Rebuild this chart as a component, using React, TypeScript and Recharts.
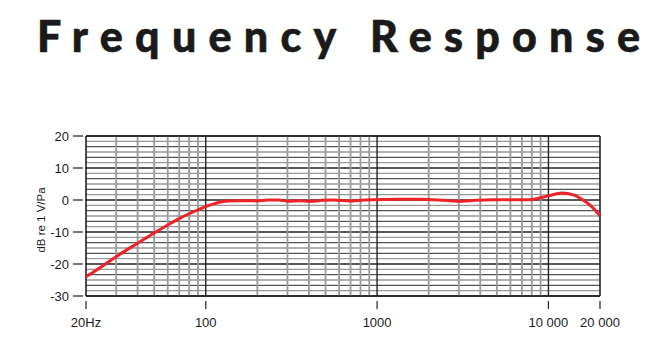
import React from 'react';
import { LineChart, Line, XAxis, YAxis, ReferenceLine } from 'recharts';

const frequencies = [20, 25, 30, 40, 50, 60, 70, 80, 90, 100, 110, 120, 135, 150, 180, 200, 230, 266, 305, 350, 410, 480, 560, 690, 840, 1000, 1300, 1800, 2300, 3000, 3500, 4700, 6000, 7700, 8500, 10000, 12000, 14000, 16000, 18000, 20000];
const responseDb = [-24, -20.6, -17.7, -13.5, -10.3, -7.8, -5.8, -4.3, -3.1, -2.1, -1.3, -0.7, -0.3, -0.2, -0.2, -0.3, 0, 0, -0.4, -0.2, -0.4, -0.1, 0, -0.3, 0, 0.1, 0.2, 0.2, 0, -0.4, -0.2, 0.1, 0.1, 0.1, 0.4, 1.3, 2.2, 1.6, -0.1, -2.2, -4.9];

const xTicks = [20, 100, 1000, 10000, 20000];
const xTickLabels = ['20Hz', '100', '1000', '10 000', '20 000'];
const yTicks = [-30, -20, -10, 0, 10, 20];
const decadeLines = [100, 1000, 10000];
const minorFreqLines = [30, 40, 50, 60, 70, 80, 90, 200, 300, 400, 500, 600, 700, 800, 900, 2000, 3000, 4000, 5000, 6000, 7000, 8000, 9000];
const dbGridSteps = Array.from({ length: 31 }, (_, i) => i);

const title = 'Frequency Response';
const yLabel = 'dB re 1 V/Pa';

const data = frequencies.map((f, i) => ({ f, db: responseDb[i] }));

const XTick = (props: any) => {
  const { x, y, payload } = props;
  const idx = xTicks.indexOf(payload.value);
  return (
    <g>
      <line x1={x} x2={x} y1={y + 5} y2={y + 13} stroke="#222" strokeWidth={1.2} />
      <text x={x} y={y + 31} textAnchor="middle" fontFamily="'Liberation Sans', Arial, sans-serif" fontSize={13} fill="#1a1a1a">
        {xTickLabels[idx]}
      </text>
    </g>
  );
};

const YTick = (props: any) => {
  const { x, y, payload } = props;
  return (
    <g>
      <line x1={x - 13} x2={x - 3} y1={y} y2={y} stroke="#222" strokeWidth={1.2} />
      <text x={x - 17} y={y + 5} textAnchor="end" fontFamily="'Liberation Sans', Arial, sans-serif" fontSize={13} fill="#1a1a1a">
        {payload.value}
      </text>
    </g>
  );
};

export default function App() {
  return (
    <div style={{ position: 'absolute', left: 0, top: 0, width: 666, height: 351, background: '#fff' }}>
      <svg width={666} height={351} style={{ position: 'absolute', left: 0, top: 0 }}>
        <text x={37} y={52} textLength={603} lengthAdjust="spacing" fontFamily="Lato, 'DejaVu Sans', sans-serif" fontWeight={900} fontSize={43} fill="#1a1a1a" stroke="#1a1a1a" strokeWidth={0.6}>
          {title}
        </text>
        <text x={0} y={0} transform="translate(45,220) rotate(-90)" textAnchor="middle" fontFamily="'Liberation Sans', Arial, sans-serif" fontSize={11.5} fill="#1a1a1a">
          {yLabel}
        </text>
      </svg>
      <div style={{ position: 'absolute', left: 0, top: 0 }}>
        <LineChart width={666} height={351} data={data} margin={{ top: 136, right: 66, bottom: 15, left: 0 }}>
          <XAxis
            dataKey="f"
            type="number"
            scale="log"
            domain={[20, 20000]}
            ticks={xTicks}
            allowDataOverflow
            axisLine={false}
            tickLine={false}
            tickSize={0}
            tickMargin={0}
            height={40}
            interval={0}
            tick={<XTick />}
          />
          <YAxis
            type="number"
            domain={[-30, 20]}
            ticks={yTicks}
            width={86}
            axisLine={false}
            tickLine={false}
            tickSize={0}
            tickMargin={0}
            interval={0}
            tick={<YTick />}
          />
          {dbGridSteps.map((i) => (
            <ReferenceLine
              key={'h' + i}
              y={-30 + (i * 10) / 6}
              stroke={i % 6 === 0 ? '#222' : i % 2 === 0 ? '#555' : '#999'}
              strokeWidth={1.4}
              ifOverflow="extendDomain"
            />
          ))}
          {minorFreqLines.map((f) => (
            <ReferenceLine key={'v' + f} x={f} stroke="#999" strokeWidth={1.8} />
          ))}
          {decadeLines.map((f) => (
            <ReferenceLine key={'d' + f} x={f} stroke="#222" strokeWidth={1.4} />
          ))}
          <ReferenceLine x={20} stroke="#222" strokeWidth={1.6} />
          <ReferenceLine x={20000} stroke="#222" strokeWidth={1.6} />
          <ReferenceLine y={20} stroke="#222" strokeWidth={1.6} />
          <ReferenceLine y={-30} stroke="#222" strokeWidth={1.6} />
          <Line
            type="monotone"
            dataKey="db"
            stroke="#ee2229"
            strokeWidth={3}
            dot={false}
            isAnimationActive={false}
          />
        </LineChart>
      </div>
    </div>
  );
}
